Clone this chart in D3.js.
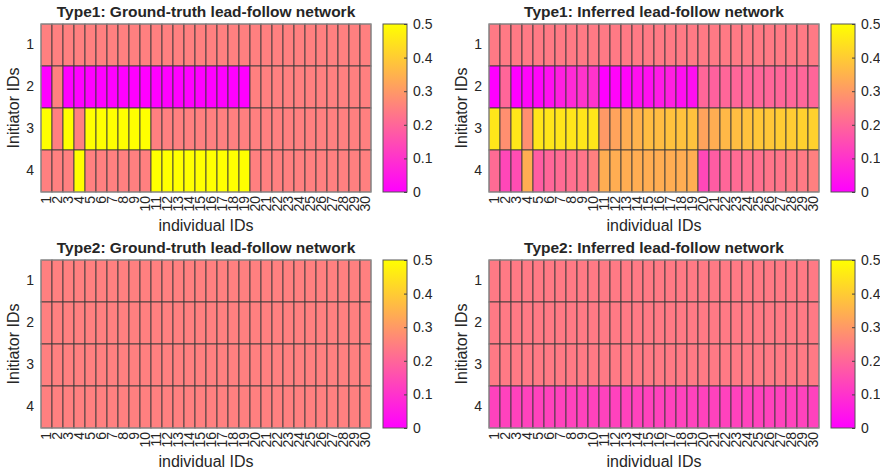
<!DOCTYPE html>
<html><head><meta charset="utf-8">
<script src="https://cdn.jsdelivr.net/npm/d3@7"></script>
<style>body{margin:0;background:#fff;} text{font-family:"Liberation Sans",Arial,sans-serif;fill:#262626;}</style>
</head><body><svg id="c" width="880" height="475"></svg>
<script>
const individuals = ["1","2","3","4","5","6","7","8","9","10","11","12","13","14","15","16","17","18","19","20","21","22","23","24","25","26","27","28","29","30"];
const initiators = ["1","2","3","4"];
const colorTicks = [0, 0.1, 0.2, 0.3, 0.4, 0.5];

const type1Truth = [
  [0.25,0.25,0.25,0.25,0.25,0.25,0.25,0.25,0.25,0.25,0.25,0.25,0.25,0.25,0.25,0.25,0.25,0.25,0.25,0.25,0.25,0.25,0.25,0.25,0.25,0.25,0.25,0.25,0.25,0.25],
  [0,0.25,0,0,0,0,0,0,0,0,0,0,0,0,0,0,0,0,0,0.25,0.25,0.25,0.25,0.25,0.25,0.25,0.25,0.25,0.25,0.25],
  [0.5,0.25,0.5,0.25,0.5,0.5,0.5,0.5,0.5,0.5,0.25,0.25,0.25,0.25,0.25,0.25,0.25,0.25,0.25,0.25,0.25,0.25,0.25,0.25,0.25,0.25,0.25,0.25,0.25,0.25],
  [0.25,0.25,0.25,0.5,0.25,0.25,0.25,0.25,0.25,0.25,0.5,0.5,0.5,0.5,0.5,0.5,0.5,0.5,0.5,0.25,0.25,0.25,0.25,0.25,0.25,0.25,0.25,0.25,0.25,0.25]
];
const type1Inferred = [
  [0.24,0.24,0.24,0.24,0.24,0.24,0.24,0.24,0.24,0.24,0.24,0.24,0.24,0.24,0.24,0.24,0.24,0.24,0.24,0.24,0.24,0.24,0.24,0.24,0.24,0.24,0.24,0.24,0.24,0.24],
  [0.00,0.20,0.00,0.01,0.01,0.03,0.06,0.08,0.10,0.10,0.00,0.01,0.01,0.03,0.03,0.05,0.06,0.03,0.03,0.20,0.19,0.20,0.20,0.20,0.20,0.20,0.20,0.20,0.20,0.20],
  [0.45,0.28,0.45,0.28,0.45,0.45,0.45,0.45,0.45,0.45,0.30,0.32,0.34,0.35,0.37,0.37,0.38,0.38,0.38,0.32,0.34,0.36,0.37,0.38,0.39,0.39,0.40,0.40,0.41,0.41],
  [0.21,0.14,0.15,0.34,0.18,0.20,0.21,0.22,0.23,0.25,0.34,0.34,0.34,0.34,0.34,0.34,0.34,0.34,0.34,0.14,0.18,0.20,0.21,0.22,0.22,0.23,0.23,0.24,0.24,0.25]
];
const type2Truth = [
  [0.25,0.25,0.25,0.25,0.25,0.25,0.25,0.25,0.25,0.25,0.25,0.25,0.25,0.25,0.25,0.25,0.25,0.25,0.25,0.25,0.25,0.25,0.25,0.25,0.25,0.25,0.25,0.25,0.25,0.25],
  [0.25,0.25,0.25,0.25,0.25,0.25,0.25,0.25,0.25,0.25,0.25,0.25,0.25,0.25,0.25,0.25,0.25,0.25,0.25,0.25,0.25,0.25,0.25,0.25,0.25,0.25,0.25,0.25,0.25,0.25],
  [0.25,0.25,0.25,0.25,0.25,0.25,0.25,0.25,0.25,0.25,0.25,0.25,0.25,0.25,0.25,0.25,0.25,0.25,0.25,0.25,0.25,0.25,0.25,0.25,0.25,0.25,0.25,0.25,0.25,0.25],
  [0.25,0.25,0.25,0.25,0.25,0.25,0.25,0.25,0.25,0.25,0.25,0.25,0.25,0.25,0.25,0.25,0.25,0.25,0.25,0.25,0.25,0.25,0.25,0.25,0.25,0.25,0.25,0.25,0.25,0.25]
];
const type2Inferred = [
  [0.24,0.24,0.24,0.24,0.24,0.24,0.24,0.24,0.24,0.24,0.24,0.24,0.24,0.24,0.24,0.24,0.24,0.24,0.24,0.24,0.24,0.24,0.24,0.24,0.24,0.24,0.24,0.24,0.24,0.24],
  [0.24,0.24,0.24,0.24,0.24,0.24,0.24,0.24,0.24,0.24,0.24,0.24,0.24,0.24,0.24,0.24,0.24,0.24,0.24,0.24,0.24,0.24,0.24,0.24,0.24,0.24,0.24,0.24,0.24,0.24],
  [0.24,0.24,0.24,0.24,0.24,0.24,0.24,0.24,0.24,0.24,0.24,0.24,0.24,0.24,0.24,0.24,0.24,0.24,0.24,0.24,0.24,0.24,0.24,0.24,0.24,0.24,0.24,0.24,0.24,0.24],
  [0.13,0.13,0.13,0.13,0.13,0.13,0.13,0.13,0.13,0.13,0.13,0.13,0.13,0.13,0.13,0.13,0.13,0.13,0.13,0.13,0.13,0.13,0.13,0.13,0.13,0.13,0.13,0.13,0.13,0.13]
];

const panels = [
  {title:"Type1: Ground-truth lead-follow network", data:type1Truth, left:41, top:24},
  {title:"Type1: Inferred lead-follow network", data:type1Inferred, left:489, top:24},
  {title:"Type2: Ground-truth lead-follow network", data:type2Truth, left:41, top:260},
  {title:"Type2: Inferred lead-follow network", data:type2Inferred, left:489, top:260}
];

const W = 330, H = 168;
const color = d3.scaleLinear().domain([0, 0.5]).range(["#ff00ff", "#ffff00"]).clamp(true);
const svg = d3.select("#c");
const defs = svg.append("defs");
const grad = defs.append("linearGradient").attr("id","spring").attr("x1",0).attr("y1",1).attr("x2",0).attr("y2",0);
grad.append("stop").attr("offset","0%").attr("stop-color",color(0));
grad.append("stop").attr("offset","100%").attr("stop-color",color(0.5));

panels.forEach(p => {
  const g = svg.append("g").attr("transform",`translate(${p.left},${p.top})`);
  const x = d3.scaleBand().domain(individuals).range([0, W]);
  const y = d3.scaleBand().domain(initiators).range([0, H]);
  const cells = [];
  p.data.forEach((row, r) => row.forEach((v, c) => cells.push({r: initiators[r], c: individuals[c], v})));
  g.selectAll("rect.cell").data(cells).join("rect").attr("class","cell")
    .attr("x", d => x(d.c)).attr("y", d => y(d.r))
    .attr("width", x.bandwidth()).attr("height", y.bandwidth())
    .attr("fill", d => color(d.v))
    .attr("stroke", "#3a3a3a").attr("stroke-opacity", 0.85).attr("stroke-width", 1);
  g.append("rect").attr("x",0).attr("y",0).attr("width",W).attr("height",H)
    .attr("fill","none").attr("stroke","#9a9a9a").attr("stroke-width",1);

  // x axis
  const xa = g.append("g").attr("transform",`translate(0,${H})`)
    .call(d3.axisBottom(x).tickSize(0).tickPadding(0));
  xa.select(".domain").remove();
  xa.selectAll("text").attr("transform","rotate(-90)").attr("text-anchor","end")
    .attr("x",-4).attr("y",0).attr("dy","0.35em")
    .style("font-size","14px").style("font-family","'Liberation Sans',Arial,sans-serif").attr("fill","#262626");
  // y axis
  const ya = g.append("g").call(d3.axisLeft(y).tickSize(0).tickPadding(7));
  ya.select(".domain").remove();
  ya.selectAll("text").style("font-size","14px").style("font-family","'Liberation Sans',Arial,sans-serif").attr("fill","#262626");

  g.append("text").attr("x", W/2).attr("y", -7).attr("text-anchor","middle")
    .style("font-size","15.5px").style("font-weight","bold").text(p.title);
  g.append("text").attr("x", W/2).attr("y", H + 39).attr("text-anchor","middle")
    .style("font-size","16px").text("individual IDs");
  g.append("text").attr("transform",`translate(${-22},${H/2}) rotate(-90)`).attr("text-anchor","middle")
    .style("font-size","16px").text("Initiator IDs");

  // colorbar
  const cb = g.append("g").attr("transform",`translate(${W + 12},0)`);
  const cw = 24;
  cb.append("rect").attr("width",cw).attr("height",H).attr("fill","url(#spring)")
    .attr("stroke","#555").attr("stroke-width",1);
  const cs = d3.scaleLinear().domain([0,0.5]).range([H,0]);
  const ca = cb.append("g").attr("transform",`translate(${cw},0)`)
    .call(d3.axisRight(cs).tickValues(colorTicks).tickFormat(d3.format("~g")).tickSize(-3).tickPadding(6));
  ca.select(".domain").remove();
  ca.selectAll("line").attr("stroke","#444");
  ca.selectAll("text").style("font-size","14px").style("font-family","'Liberation Sans',Arial,sans-serif").attr("fill","#262626");
});
</script></body></html>
